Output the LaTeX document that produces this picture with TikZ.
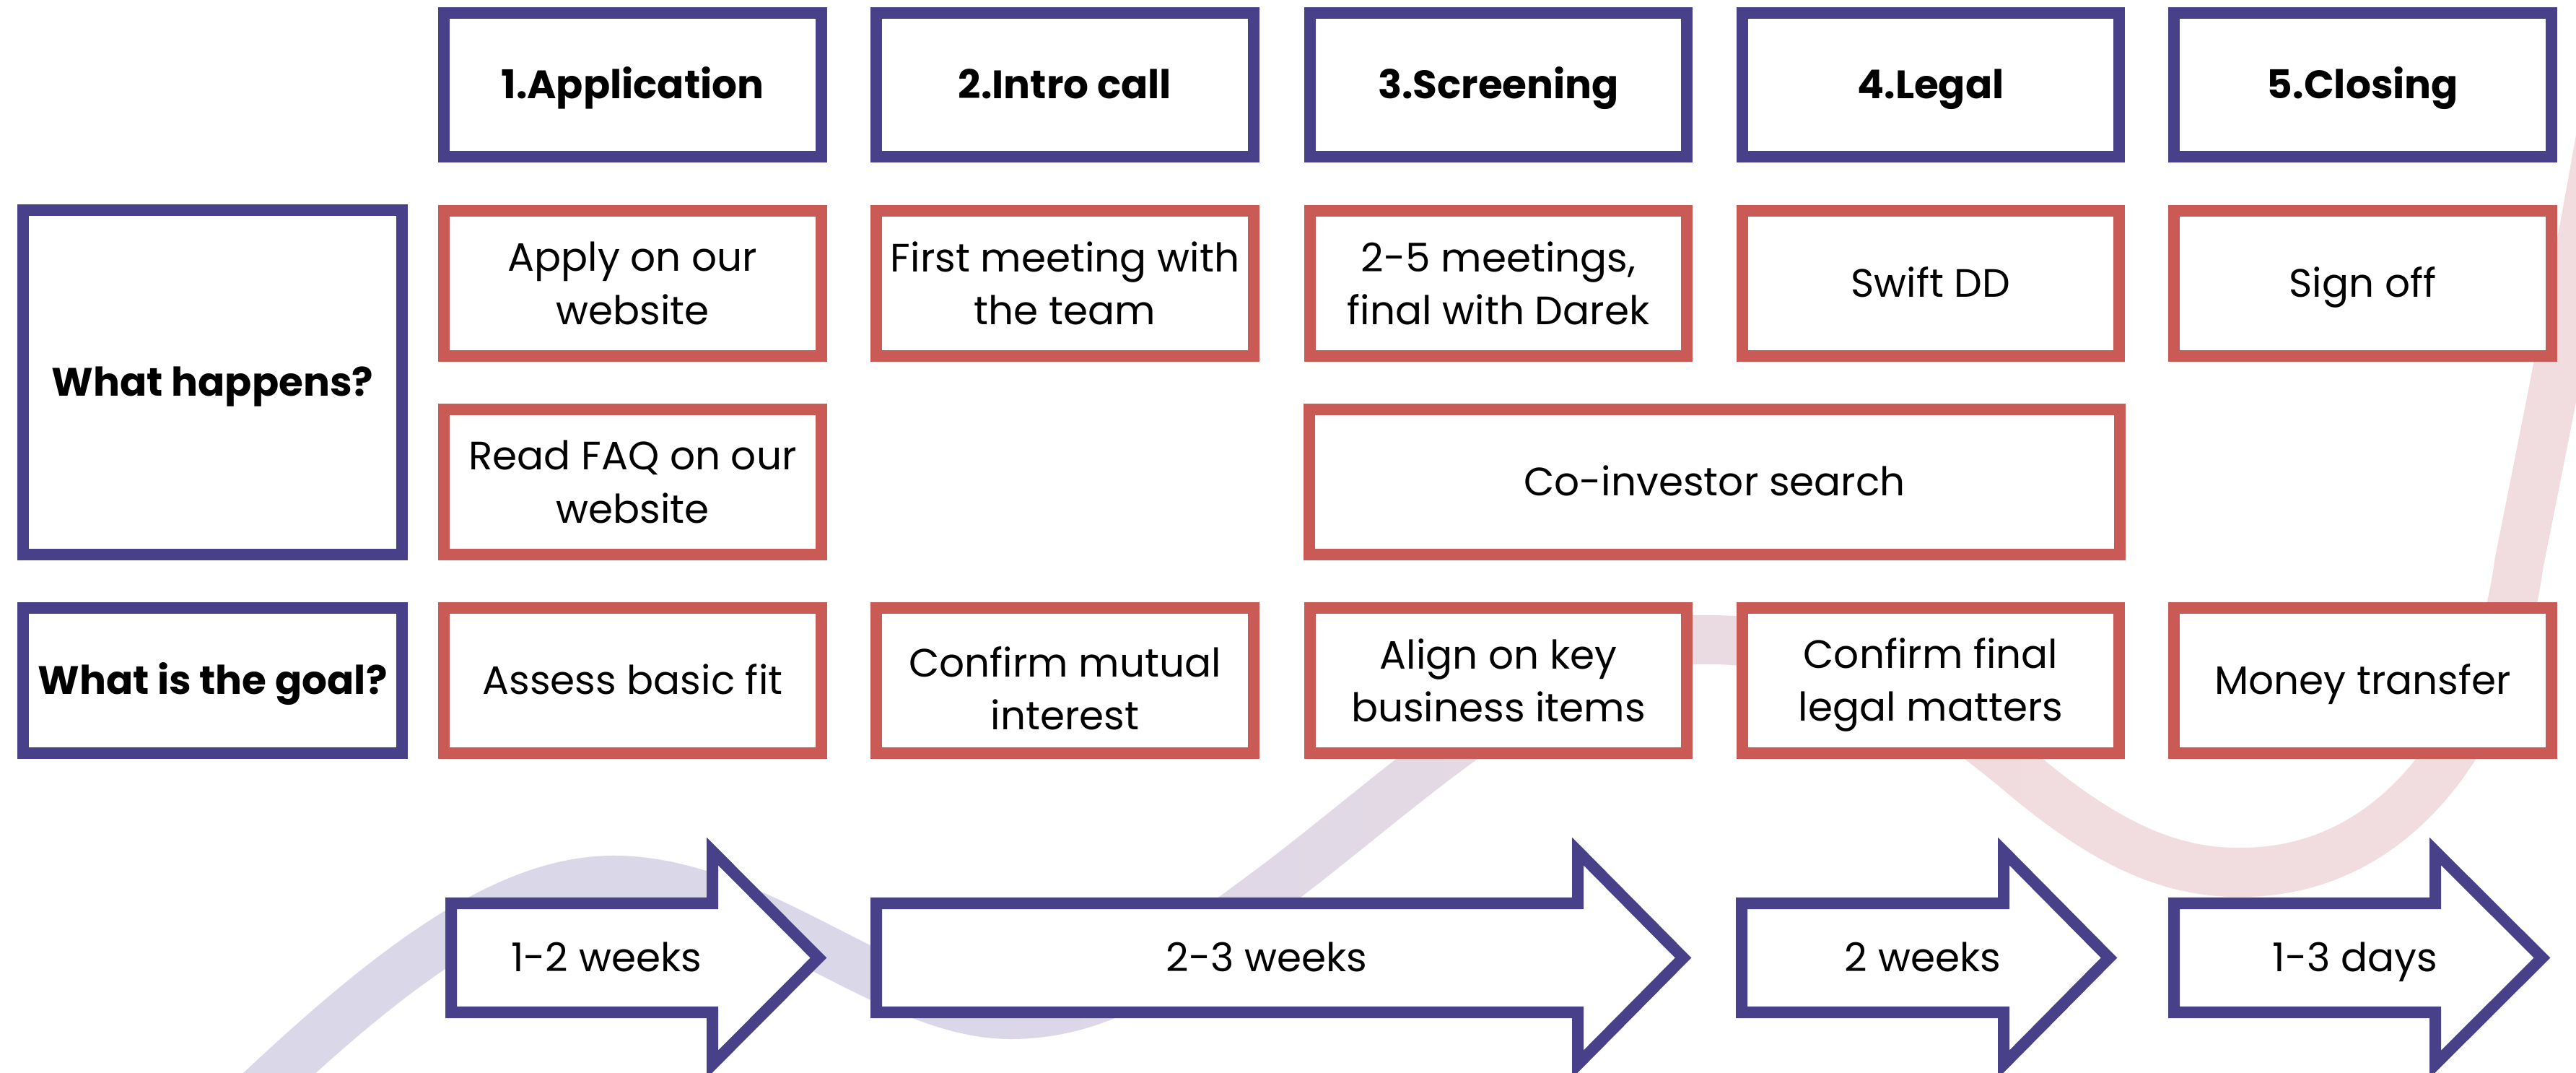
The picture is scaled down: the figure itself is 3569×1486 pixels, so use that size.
\documentclass[tikz,border=0pt]{standalone}
\usepackage{fontspec}
\setmainfont{Poppins}
\definecolor{boxP}{HTML}{48418A}
\definecolor{boxR}{HTML}{C95A56}
\definecolor{bandP}{HTML}{DAD7E9}
\definecolor{bandR}{HTML}{F1DCDF}
\newcommand\mystrut{\vrule width 0pt height 15.9pt depth 5pt\relax}
\newcommand\bandpath{(340,1530)
 .. controls (540,1340) and (700,1219) .. (850,1219)
 .. controls (1050,1219) and (1230,1405) .. (1400,1405)
 .. controls (1540,1405) and (1640,1320) .. (1760,1232)
 .. controls (1950,1090) and (2150,888) .. (2350,886)
 .. controls (2550,882) and (2680,970) .. (2800,1070)
 .. controls (2930,1180) and (3020,1210) .. (3110,1208)
 .. controls (3330,1205) and (3460,1000) .. (3490,780)
 .. controls (3530,580) and (3570,380) .. (3610,150)}
\newcommand\durarrow[3]{%
  \draw[arrowline] (#1,1251) -- (#2,1251) -- (#2,1179) -- (#3,1326.5)
    -- (#2,1474) -- (#2,1402) -- (#1,1402) -- cycle;}
\begin{document}
\begin{tikzpicture}[x=0.01cm,y=-0.01cm,
  txt/.style={font=\fontsize{15.6pt}{20.8pt}\selectfont},
  sl/.style={execute at begin node=\mystrut, execute at end node=\mystrut},
  hbox/.style={draw=boxP, line width=0.16cm, fill=white, minimum width=5.22cm,
    minimum height=1.99cm, align=center, inner sep=0pt, sl,
    font=\bfseries\fontsize{15.6pt}{20.8pt}\selectfont},
  cbox/.style={draw=boxR, line width=0.16cm, fill=white, minimum width=5.22cm,
    minimum height=2.01cm, align=center, inner sep=0pt, txt},
  lbox/.style={draw=boxP, line width=0.16cm, fill=white, minimum width=5.25cm,
    align=center, inner sep=0pt, sl,
    font=\bfseries\fontsize{15.6pt}{20.8pt}\selectfont},
  arrowline/.style={draw=boxP, line width=0.16cm, fill=white, line join=miter},
  band/.style={line width=0.68cm, line cap=butt},
  lbl/.style={txt, sl, inner sep=0pt}]
\useasboundingbox (0,0) rectangle (3569,1486);
\clip (0,0) rectangle (3569,1486);
% background band
\begin{scope}
  \clip (-10,-10) rectangle (1401,1500);
  \draw[band, bandP] \bandpath;
\end{scope}
\foreach \i in {0,...,13}{
  \pgfmathtruncatemacro\pct{100-(\i+0.5)*100/14}
  \begin{scope}
    \clip (1400+\i*100,-10) rectangle ++(101,1510);
    \draw[band, bandP!\pct!bandR] \bandpath;
  \end{scope}
}
\begin{scope}
  \clip (2800,-10) rectangle (3700,1500);
  \draw[band, bandR] \bandpath;
\end{scope}
% headers
\node[hbox] (h1) at (876.5,117.5) {1.Application};
\node[hbox] (h2) at (1475.5,117.5) {2.Intro call};
\node[hbox] (h3) at (2076,117.5) {3.Screening};
\node[hbox] (h4) at (2675,117.5) {4.Legal};
\node[hbox] (h5) at (3273.5,117.5) {5.Closing};
% left labels
\node[lbox, minimum height=4.77cm] (wh) at (294.5,529.5) {What happens?};
\node[lbox, minimum height=2.01cm] (wg) at (294.5,942.5) {What is the goal?};
% row 1
\node[cbox] (a1) at (876.5,392.5) {Apply on our\\website};
\node[cbox] (a2) at (1475.5,392.5) {First meeting with\\the team};
\node[cbox] (a3) at (2076,392.5) {2-5 meetings,\\final with Darek};
\node[cbox, sl] (a4) at (2675,392.5) {Swift DD};
\node[cbox, sl] (a5) at (3273.5,392.5) {Sign off};
% row 2
\node[cbox] (b1) at (876.5,667.5) {Read FAQ on our\\website};
\node[cbox, sl, minimum width=11.23cm] (b3) at (2375.5,667.5) {Co-investor search};
% goals
\node[cbox, sl] (g1) at (876.5,942.5) {Assess basic fit};
\node[cbox] (g2) at (1475.5,942.5) {\rule{0pt}{18pt}Confirm mutual\\interest};
\node[cbox] (g3) at (2076,942.5) {Align on key\\business items};
\node[cbox] (g4) at (2675,942.5) {\rule{0pt}{15.5pt}Confirm final\\legal matters};
\node[cbox, sl] (g5) at (3273.5,942.5) {Money transfer};
% duration arrows
\durarrow{625}{987}{1134}
\durarrow{1214}{2186}{2332}
\durarrow{2413}{2776}{2922}
\durarrow{3012}{3374}{3522}
\node[lbl] (d1) at (840,1326) {1-2 weeks};
\node[lbl] (d2) at (1755,1326) {2-3 weeks};
\node[lbl] (d3) at (2664,1326) {2 weeks};
\node[lbl] (d4) at (3263,1326) {1-3 days};
\end{tikzpicture}
\end{document}
